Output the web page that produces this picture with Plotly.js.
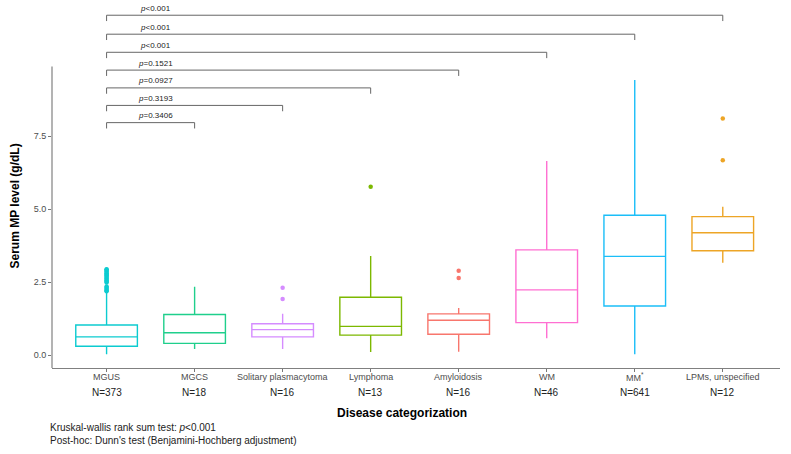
<!DOCTYPE html>
<html>
<head>
<meta charset="utf-8">
<script src="https://cdn.plot.ly/plotly-3.0.1.min.js"></script>
<style>
  html, body { margin: 0; padding: 0; background: #fff; }
  #chart { width: 791px; height: 454px; }
</style>
</head>
<body>
<div id="chart"></div>
<script>
// categories and box statistics
let categories = ["MGUS", "MGCS", "Solitary plasmacytoma", "Lymphoma", "Amyloidosis", "WM", "MM", "LPMs, unspecified"];
let tickLabels = ["MGUS", "MGCS", "Solitary plasmacytoma", "Lymphoma", "Amyloidosis", "WM", "MM<sup>*</sup>", "LPMs, unspecified"];
let nLabels = ["N=373", "N=18", "N=16", "N=13", "N=16", "N=46", "N=641", "N=12"];

let q1 = [0.30, 0.40, 0.62, 0.68, 0.71, 1.11, 1.68, 3.57];
let medians = [0.62, 0.76, 0.87, 0.98, 1.19, 2.23, 3.38, 4.19];
let q3 = [1.03, 1.39, 1.07, 1.98, 1.41, 3.60, 4.79, 4.74];
let lowerWhisker = [0.03, 0.21, 0.21, 0.10, 0.11, 0.57, 0.03, 3.16];
let upperWhisker = [2.13, 2.34, 1.41, 3.39, 1.61, 6.65, 9.42, 5.08];
let outliers = [
    [2.18, 2.22, 2.26, 2.30, 2.35, 2.48, 2.52, 2.56, 2.60, 2.64, 2.68, 2.72, 2.76, 2.80, 2.84, 2.88, 2.92, 2.94],
    [],
    [2.30, 1.92],
    [5.76],
    [2.89, 2.64],
    [],
    [],
    [8.10, 6.67]
];
let colors = ["#0CCBD0", "#1FCF8C", "#D58CFF", "#7CB800", "#F8766D", "#FF6FD2", "#1BBEF8", "#EDA526"];

// pairwise comparisons against MGUS
let compareTo = ["MGCS", "Solitary plasmacytoma", "Lymphoma", "Amyloidosis", "WM", "MM", "LPMs, unspecified"];
let pLabels = ["<i>p</i>=0.3406", "<i>p</i>=0.3193", "<i>p</i>=0.0927", "<i>p</i>=0.1521", "<i>p</i>&lt;0.001", "<i>p</i>&lt;0.001", "<i>p</i>&lt;0.001"];
let bracketY = [7.96, 8.55, 9.15, 9.76, 10.37, 10.99, 11.64];

let fontFamily = "Arial, 'Liberation Sans', sans-serif";
let yRange = [-0.445, 11.99];

let data = [];

categories.forEach(function (cat, i) {
    data.push({
        type: "box",
        x: [cat],
        q1: [q1[i]],
        median: [medians[i]],
        q3: [q3[i]],
        lowerfence: [lowerWhisker[i]],
        upperfence: [upperWhisker[i]],
        width: 0.7,
        whiskerwidth: 0,
        boxpoints: false,
        fillcolor: "rgba(0,0,0,0)",
        line: { color: colors[i], width: 1.4 },
        hoverinfo: "skip"
    });
    if (outliers[i].length) {
        data.push({
            type: "scatter",
            mode: "markers",
            x: outliers[i].map(function () { return cat; }),
            y: outliers[i],
            marker: { color: colors[i], size: 4.5 },
            hoverinfo: "skip"
        });
    }
});

// brackets
compareTo.forEach(function (cat, i) {
    let y = bracketY[i];
    data.push({
        type: "scatter",
        mode: "lines",
        x: [categories[0], categories[0], cat, cat],
        y: [y - 0.2, y, y, y - 0.2],
        line: { color: "#666666", width: 1 },
        hoverinfo: "skip"
    });
});

let annotations = [];

compareTo.forEach(function (cat, i) {
    annotations.push({
        x: 0.56, xref: "x",
        y: bracketY[i] + 0.24, yref: "y",
        xanchor: "center", yanchor: "middle",
        text: pLabels[i],
        showarrow: false,
        font: { family: fontFamily, size: 8, color: "#222" }
    });
});

categories.forEach(function (cat, i) {
    annotations.push({
        x: cat, xref: "x",
        y: -0.024, yref: "paper",
        xanchor: "center", yanchor: "middle",
        text: tickLabels[i],
        showarrow: false,
        font: { family: fontFamily, size: 9, color: "#4d4d4d" }
    });
    annotations.push({
        x: cat, xref: "x",
        y: -0.068, yref: "paper",
        xanchor: "center", yanchor: "middle",
        text: nLabels[i],
        showarrow: false,
        font: { family: fontFamily, size: 10, color: "#222" }
    });
});

annotations.push({
    x: 0.4808, xref: "paper", y: -0.124, yref: "paper",
    xanchor: "center", yanchor: "middle",
    text: "<b>Disease categorization</b>",
    showarrow: false,
    font: { family: fontFamily, size: 12, color: "#000" }
});

annotations.push({
    x: -0.0508, xref: "paper", y: 0.445, yref: "paper",
    xanchor: "center", yanchor: "middle",
    text: "<b>Serum MP level (g/dL)</b>",
    textangle: -90,
    showarrow: false,
    font: { family: fontFamily, size: 12, color: "#000" }
});

annotations.push({
    x: -0.0055, xref: "paper", xanchor: "left",
    y: -0.1827, yref: "paper", yanchor: "middle",
    align: "left",
    text: "Kruskal-wallis rank sum test: <i>p</i>&lt;0.001<br>Post-hoc: Dunn's test (Benjamini-Hochberg adjustment)",
    showarrow: false,
    font: { family: fontFamily, size: 10, color: "#222" }
});

let layout = {
    width: 791,
    height: 454,
    margin: { l: 52, r: 11, t: 5, b: 86 },
    paper_bgcolor: "#fff",
    plot_bgcolor: "#fff",
    showlegend: false,
    boxmode: "overlay",
    font: { family: fontFamily },
    xaxis: {
        type: "category",
        categoryarray: categories,
        range: [-0.62, 7.65],
        showticklabels: false,
        ticks: "outside",
        ticklen: 3,
        tickcolor: "#777",
        showline: true,
        linecolor: "#808080",
        linewidth: 1.2,
        showgrid: false,
        zeroline: false
    },
    yaxis: {
        range: yRange,
        tickmode: "array",
        tickvals: [0, 2.5, 5, 7.5],
        ticktext: ["0.0", "2.5", "5.0", "7.5"],
        tickfont: { size: 9, color: "#4d4d4d" },
        ticks: "outside",
        ticklen: 3,
        tickcolor: "#777",
        showline: false,
        showgrid: false,
        zeroline: false
    },
    shapes: [{
        type: "line",
        xref: "paper", x0: 0, x1: 0,
        yref: "y", y0: yRange[0], y1: 9.88,
        line: { color: "#808080", width: 1.2 }
    }],
    annotations: annotations
};

Plotly.newPlot("chart", data, layout, { displayModeBar: false, staticPlot: true });
</script>
</body>
</html>
